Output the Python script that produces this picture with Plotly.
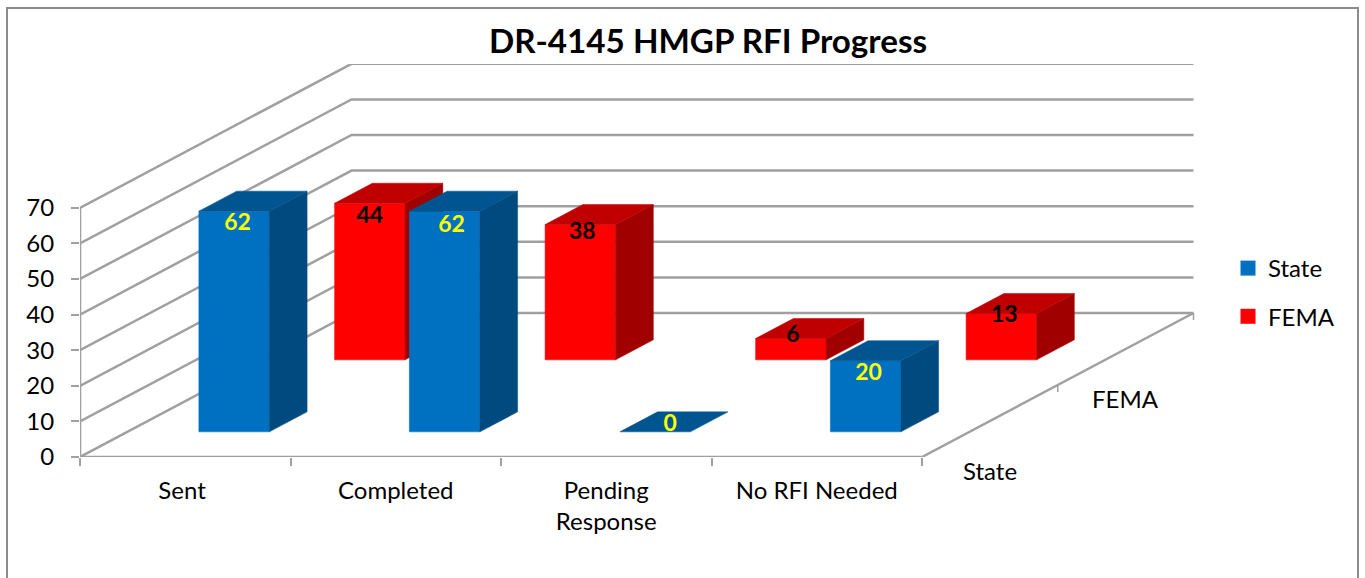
import plotly.graph_objects as go

# ---- data ----
TITLE = "DR-4145 HMGP RFI Progress"
CATEGORIES = ["Sent", "Completed", "Pending<br>Response", "No RFI Needed"]
SERIES = ["State", "FEMA"]
STATE_VALUES = [62, 62, 0, 20]
FEMA_VALUES = [44, 38, 6, 13]
Y_TICKS = [0, 10, 20, 30, 40, 50, 60, 70]

# ---- layout geometry (oblique projection) ----
W, H = 1365, 578
ML, MR, MT, MB = 80, 170, 64, 121
PX_PER_CAT = 210.5
PX_PER_UNIT = 3.56
DEPTH_PX = (271.5, 144.0)
DX = DEPTH_PX[0] / PX_PER_CAT      # category units per full depth
DY = DEPTH_PX[1] / PX_PER_UNIT     # value units per full depth
BAR_W = 70.5 / PX_PER_CAT
BAR_D = 0.139                      # fraction of full depth
GREY = "#A0A0A0"
FONT = "Lato, Carlito, 'Open Sans', sans-serif"
PW, PH = W - ML - MR, H - MT - MB
Y_MAX = PH / PX_PER_UNIT


def proj(cat, val, depth):
    return cat + depth * DX, val + depth * DY


fig = go.Figure()


def line(xs, ys, width=2.5):
    fig.add_trace(go.Scatter(x=xs, y=ys, mode="lines", cliponaxis=False, hoverinfo="skip",
                             showlegend=False, line=dict(color=GREY, width=width)))


# walls and floor
n = len(CATEGORIES)
for v in Y_TICKS:
    p0, p1, p2 = proj(0, v, 0), proj(0, v, 1), proj(n, v, 1)
    line([p0[0], p1[0], p2[0]], [p0[1], p1[1], p2[1]])
line([0, 0], [0, Y_TICKS[-1]])
line([0, n], [0, 0])
p0, p1 = proj(n, 0, 0), proj(n, 0, 1)
line([p0[0], p1[0]], [p0[1], p1[1]])
for d in [0, 0.5, 1]:
    p = proj(n, 0, d)
    line([p[0], p[0]], [p[1], p[1] - 7 / PX_PER_UNIT], 1.5)


def face(pts, color):
    fig.add_trace(go.Scatter(x=[p[0] for p in pts] + [pts[0][0]], y=[p[1] for p in pts] + [pts[0][1]],
                             mode="lines", fill="toself", fillcolor=color, cliponaxis=False,
                             line=dict(color=color, width=0.5), hoverinfo="skip", showlegend=False))


def bar(cat, value, row, colors):
    c0 = cat + (1 - BAR_W) / 2 + 0.007
    c1 = c0 + BAR_W
    d0 = (row + 0.5) / 2 - BAR_D / 2 - 0.006
    d1 = d0 + BAR_D
    front = [proj(c0, 0, d0), proj(c1, 0, d0), proj(c1, value, d0), proj(c0, value, d0)]
    top = [proj(c0, value, d0), proj(c1, value, d0), proj(c1, value, d1), proj(c0, value, d1)]
    side = [proj(c1, 0, d0), proj(c1, 0, d1), proj(c1, value, d1), proj(c1, value, d0)]
    if value > 0:
        face(front, colors[0])
        face(side, colors[2])
    face(top, colors[1])
    return proj(c0 + BAR_W / 2, value, d0)


BLUE = ("#0070C0", "#005590", "#004A7F")
RED = ("#FF0000", "#C00000", "#A00000")
# label nudges in px: right, down from the centre of the front-top edge
NUDGE_FEMA = [(0, 14), (2, 9), (2, -2), (3, 3)]
NUDGE_STATE = [(3.5, 13), (7, 15), (15, -7), (3, 14)]

fema_anchor = [bar(i, v, 1, RED) for i, v in enumerate(FEMA_VALUES)]
state_anchor = [bar(i, v, 0, BLUE) for i, v in enumerate(STATE_VALUES)]


def labels(anchors, nudges, values, color):
    fig.add_trace(go.Scatter(
        x=[a[0] + nx / PX_PER_CAT for a, (nx, ny) in zip(anchors, nudges)],
        y=[a[1] - ny / PX_PER_UNIT for a, (nx, ny) in zip(anchors, nudges)],
        mode="text", text=[str(v) for v in values], textposition="middle center", cliponaxis=False,
        textfont=dict(family=FONT, size=23, color=color, weight="bold"),
        hoverinfo="skip", showlegend=False))


labels(fema_anchor, NUDGE_FEMA, FEMA_VALUES, "#000000")
labels(state_anchor, NUDGE_STATE, STATE_VALUES, "#FFFF00")

# depth axis labels (y in paper fractions: the State label sits below the y range)
depth_notes = []
for name, d in zip(SERIES, [0.25, 0.75]):
    p = proj(n, -49 / PX_PER_UNIT, d)
    depth_notes.append(dict(x=p[0], y=p[1] / Y_MAX, xref="x", yref="paper", text=name, showarrow=False,
                            xanchor="center", yanchor="middle", font=dict(family=FONT, size=24)))

# legend entries
for name, col in zip(SERIES, [BLUE[0], RED[0]]):
    fig.add_trace(go.Scatter(x=[None], y=[None], mode="markers", name=name, legendgroup=name,
                             marker=dict(symbol="square", size=15, color=col)))

px = lambda x: (x - ML) / PW
py = lambda y: (H - MB - y) / PH

fig.update_layout(
    width=W, height=H, margin=dict(l=ML, r=MR, t=MT, b=MB, pad=0),
    paper_bgcolor="white", plot_bgcolor="rgba(0,0,0,0)",
    font=dict(family=FONT, size=24, color="#000000"),
    title=dict(text=TITLE, x=708 / W, xref="container", xanchor="center", y=1 - 41 / H,
               yanchor="middle", font=dict(family=FONT, size=33.2, weight="bold", color="#000000")),
    xaxis=dict(range=[0, PW / PX_PER_CAT], showgrid=False, zeroline=False, showline=False,
               tickmode="array", tickvals=[0.485, 1.5, 2.5, 3.5], ticktext=CATEGORIES,
               ticks="outside", ticklen=12, tickcolor="rgba(0,0,0,0)", tickfont=dict(size=24),
               minor=dict(tickmode="array", tickvals=list(range(n + 1)), ticks="outside",
                          ticklen=8, tickwidth=1.5, tickcolor=GREY, showgrid=False),
               fixedrange=True),
    yaxis=dict(range=[0, Y_MAX], showgrid=False, zeroline=False, showline=False,
               tickmode="array", tickvals=Y_TICKS, ticks="outside", ticklen=8, tickwidth=2,
               tickcolor=GREY, tickfont=dict(size=24), ticklabelstandoff=12, fixedrange=True),
    legend=dict(x=px(1228), y=py(246), xanchor="left", yanchor="top", tracegroupgap=14,
                font=dict(size=24), bgcolor="rgba(0,0,0,0)", itemclick=False, itemdoubleclick=False),
    annotations=depth_notes,
    shapes=[dict(type="rect", xref="paper", yref="paper", x0=px(7), x1=px(1358), y0=py(590), y1=py(8),
                 line=dict(color="#8C8C8C", width=2), layer="below")],
)

fig.write_html("out.html", config={"displayModeBar": False},
               post_script="document.body.style.margin='0';document.body.style.overflow='hidden';")
